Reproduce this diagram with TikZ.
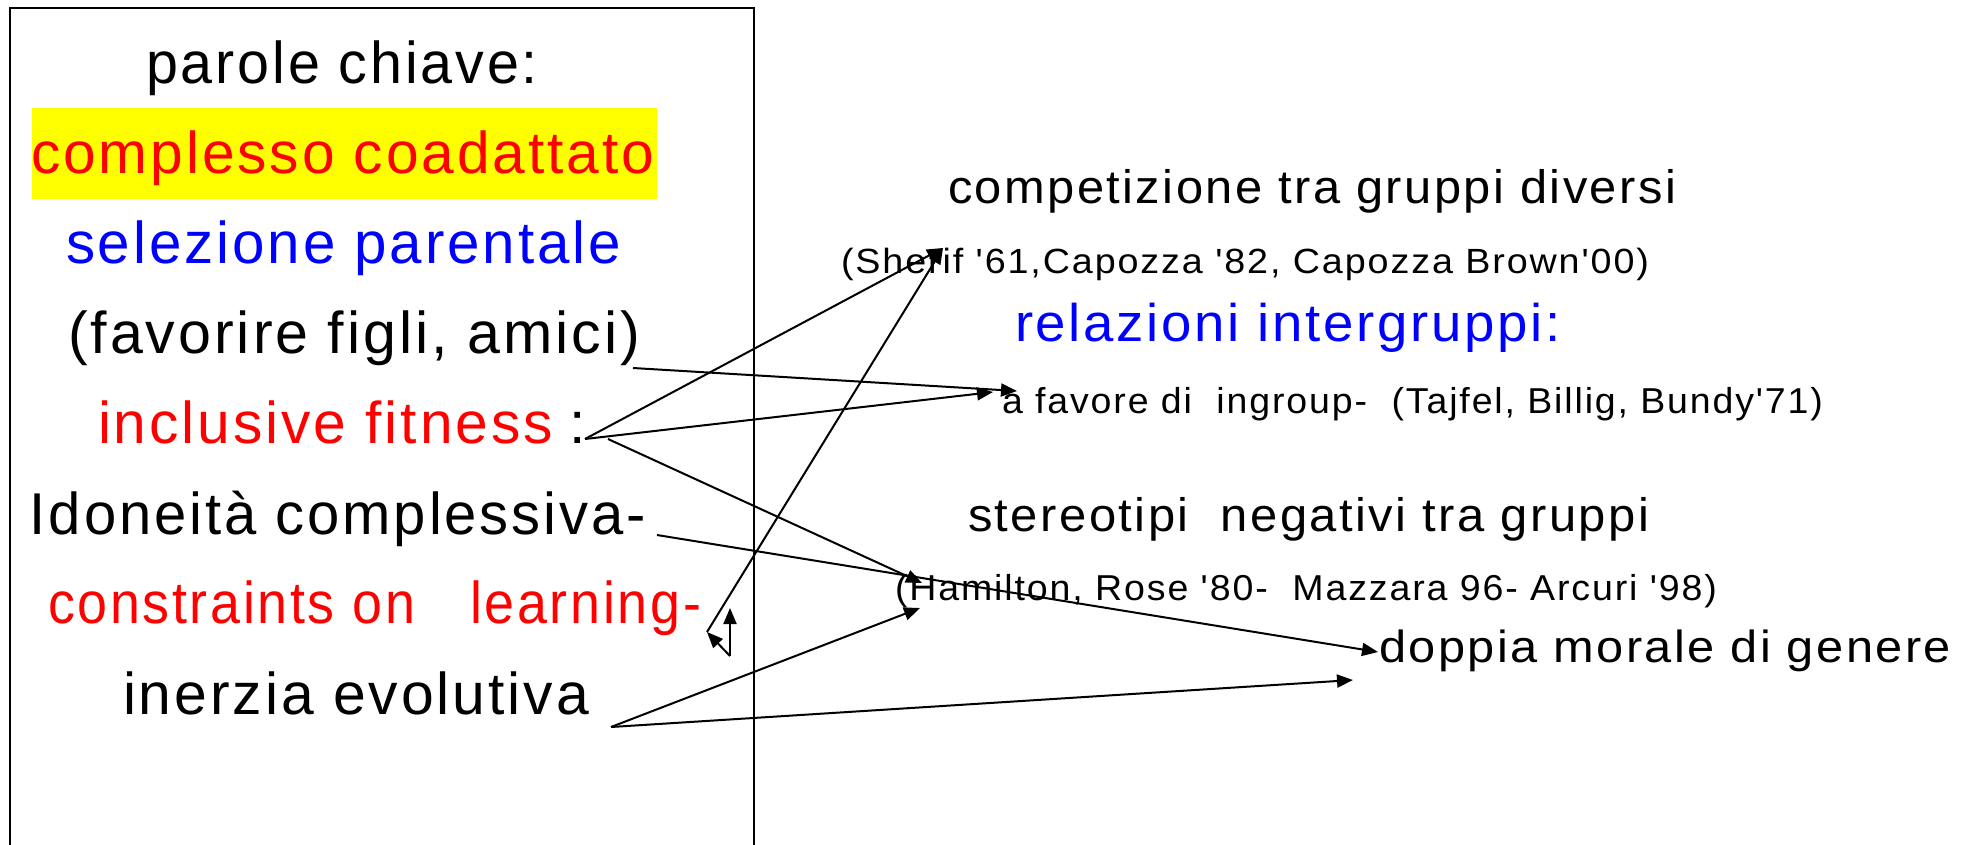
\documentclass[tikz,border=0pt]{standalone}
\usepackage{fontspec}
\setmainfont[LetterSpace=5,Ligatures=TeXOff]{Liberation Sans}
\usetikzlibrary{arrows.meta}
\newcommand\fitto[2]{\resizebox{#1}{\height}{#2}}
\definecolor{pRed}{RGB}{255,0,0}
\definecolor{pBlue}{RGB}{0,0,255}
\definecolor{pYellow}{RGB}{255,255,0}
\begin{document}
\begin{tikzpicture}[x=1pt,y=-1pt,
  lbl/.style={anchor=base west, inner sep=0pt, outer sep=0pt},
  big/.style={font=\fontsize{59}{70}\selectfont},
  med/.style={font=\fontsize{47}{56}\selectfont},
  sml/.style={font=\fontsize{36}{42}\selectfont},
  conn/.style={line width=2pt, -{Triangle[length=16pt,width=13pt]}},
  frame/.style={line width=2pt}]
\useasboundingbox (0,0) rectangle (1972,844);
\fill[white] (0,0) rectangle (1972,844);
% left frame
\draw[frame] (9.5,846) -- (9.5,7.5) -- (753.5,7.5) -- (753.5,846);
% yellow highlight
\fill[pYellow] (32,108) rectangle (657,199);
% left texts
\node[lbl,big] (parole) at (146,83) {\fitto{392pt}{parole chiave:}};
\node[lbl,big,text=pRed] (compl) at (31,173) {\fitto{623pt}{complesso coadattato}};
\node[lbl,big,text=pBlue] (sel) at (66,263) {\fitto{555pt}{selezione parentale}};
\node[lbl,big] (fav) at (68,353) {\fitto{572pt}{(favorire figli, amici)}};
\node[lbl,big,text=pRed] (incl) at (98,443) {\fitto{455pt}{inclusive fitness}};
\node[lbl,big] (colon) at (569,443) {:};
\node[lbl,big] (idon) at (30,534) {\fitto{616pt}{Idoneità complessiva-}};
\node[lbl,big,text=pRed] (constr) at (48,623) {\fitto{367pt}{constraints on}};
\node[lbl,big,text=pRed] (learn) at (470,623) {\fitto{231pt}{learning-}};
\node[lbl,big] (inerz) at (123,714) {\fitto{466pt}{inerzia evolutiva}};
% right texts
\node[lbl,med] (comp) at (948,203) {\fitto{728pt}{competizione tra gruppi diversi}};
\node[lbl,font=\fontsize{35}{42}\selectfont] (sherif) at (841,273) {\fitto{808pt}{(Sherif '61,Capozza '82, Capozza Brown'00)}};
\node[lbl,font=\fontsize{53}{62}\selectfont,text=pBlue] (rel) at (1015,341) {\fitto{546pt}{relazioni intergruppi:}};
\node[lbl,sml] (ingr) at (1002,413) {\fitto{821pt}{a favore di\ \ ingroup-\ \ (Tajfel, Billig, Bundy'71)}};
\node[lbl,med] (stereo) at (968,531) {\fitto{681pt}{stereotipi\ \ negativi tra gruppi}};
\node[lbl,sml] (hamil) at (895,600) {\fitto{822pt}{(Hamilton, Rose '80-\ \ Mazzara 96- Arcuri '98)}};
\node[lbl,font=\fontsize{45}{54}\selectfont] (doppia) at (1379,662) {\fitto{572pt}{doppia morale di genere}};
% connector end points
\coordinate (favOut) at (633,368);
\coordinate (ingrIn) at (1017,391);
\coordinate (ingrIn2) at (993,392);
\coordinate (colonOut) at (585,439);
\coordinate (colonOut2) at (608,439);
\coordinate (sherifIn) at (943,248);
\coordinate (hamilIn) at (922,583);
\coordinate (hamilIn2) at (920,608);
\coordinate (idonOut) at (657,535);
\coordinate (doppiaIn) at (1378,652);
\coordinate (inerzOut) at (611,727);
\coordinate (doppiaIn2) at (1353,680);
\coordinate (learnFoot) at (730,656);
\coordinate (learnTip) at (707,632);
\coordinate (learnUp) at (730,608);
% connectors
\draw[conn] (favOut) -- (ingrIn);
\draw[conn] (colonOut) -- (sherifIn);
\draw[conn] (colonOut) -- (ingrIn2);
\draw[conn] (colonOut2) -- (hamilIn);
\draw[conn] (idonOut) -- (doppiaIn);
\draw[conn] (inerzOut) -- (hamilIn2);
\draw[conn] (inerzOut) -- (doppiaIn2);
\draw[conn] (learnFoot) -- (learnTip);
\draw[conn] (learnFoot) -- (learnUp);
\draw[conn] (learnTip) -- (sherifIn);
\end{tikzpicture}
\end{document}
